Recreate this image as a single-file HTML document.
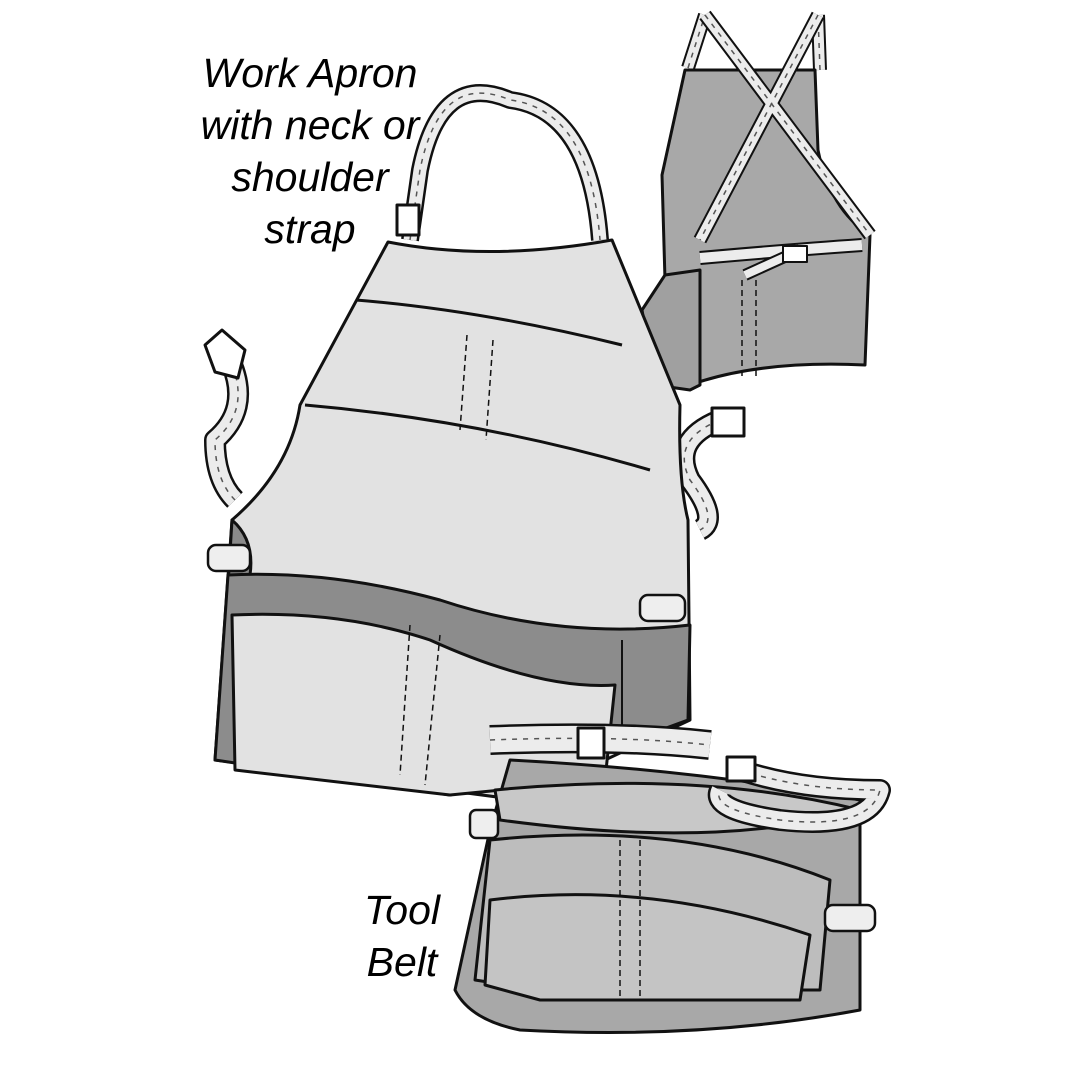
<!DOCTYPE html>
<html><head><meta charset="utf-8"><style>
html,body{margin:0;padding:0;background:#fff;width:1080px;height:1080px;overflow:hidden}
svg{display:block}
text{font-family:"Liberation Sans",sans-serif;font-style:italic;font-size:41px;fill:#000;stroke:none}
</style></head><body>
<svg width="1080" height="1080" viewBox="0 0 1080 1080" stroke="#111" stroke-width="3" stroke-linejoin="round">
<defs>
<style>
.so{fill:none;stroke:#111}
.si{fill:none;stroke:#ececec}
.sd{fill:none;stroke:#555;stroke-width:1.5;stroke-dasharray:5 6}
</style>
</defs>
<!-- labels -->
<text x="310" y="87" text-anchor="middle">Work Apron</text>
<text x="310" y="139" text-anchor="middle">with neck or</text>
<text x="310" y="191" text-anchor="middle">shoulder</text>
<text x="310" y="243" text-anchor="middle">strap</text>
<text x="402" y="924" text-anchor="middle">Tool</text>
<text x="402" y="976" text-anchor="middle">Belt</text>

<!-- small back-view apron -->
<g>
<path d="M688 68 L705 15 M820 70 L818 15" class="so" stroke-width="14"/>
<path d="M688 68 L705 15 M820 70 L818 15" class="si" stroke-width="10"/>
<path d="M688 68 L705 15 M820 70 L818 15" class="sd"/>
<path d="M685 70 L815 70 L818 150 Q830 210 870 235 L865 365 Q760 360 690 385 L665 280 L662 175 Z" fill="#a8a8a8"/>
<path d="M642 310 L665 275 L700 270 L700 385 L690 390 L655 385 Z" fill="#a0a0a0"/>
<path d="M705 15 L870 235 M818 15 L700 240" class="so" stroke-width="14"/>
<path d="M705 15 L870 235 M818 15 L700 240" class="si" stroke-width="10"/>
<path d="M705 15 L870 235 M818 15 L700 240" class="sd"/>
<path d="M700 258 Q790 250 862 245" class="so" stroke-width="14"/>
<path d="M700 258 Q790 250 862 245" class="si" stroke-width="10"/>
<path d="M745 275 L800 250" class="so" stroke-width="12"/>
<path d="M745 275 L800 250" class="si" stroke-width="8"/>
<rect x="783" y="246" width="24" height="16" fill="#fff" stroke-width="2"/>
<path d="M742 280 L742 380 M756 280 L756 380" fill="none" stroke-width="1.5" stroke-dasharray="6 4"/>
</g>

<!-- main apron neck strap -->
<path d="M410 240 L420 170 Q440 70 510 100 Q590 110 600 240" class="so" stroke-width="18"/>
<path d="M410 240 L420 170 Q440 70 510 100 Q590 110 600 240" class="si" stroke-width="13"/>
<path d="M410 240 L420 170 Q440 70 510 100 Q590 110 600 240" class="sd"/>
<rect x="397" y="205" width="22" height="30" fill="#fff"/>

<!-- side straps -->
<path d="M232 365 Q250 410 215 440 Q215 480 235 500" class="so" stroke-width="22"/>
<path d="M232 365 Q250 410 215 440 Q215 480 235 500" class="si" stroke-width="17"/>
<path d="M232 365 Q250 410 215 440 Q215 480 235 500" class="sd"/>
<path d="M205 345 L222 330 L245 350 L238 378 L215 372 Z" fill="#fff"/>
<path d="M720 420 Q670 440 690 480 Q720 520 700 530" class="so" stroke-width="22"/>
<path d="M720 420 Q670 440 690 480 Q720 520 700 530" class="si" stroke-width="17"/>
<path d="M720 420 Q670 440 690 480 Q720 520 700 530" class="sd"/>
<rect x="712" y="408" width="32" height="28" fill="#fff"/>

<!-- main apron body -->
<path d="M388 242 Q490 262 612 240 L680 405 Q678 480 688 520 L690 720 L520 800 L215 760 L232 520 Q290 470 300 405 Z" fill="#e2e2e2"/>
<path d="M232 520 Q255 540 250 575 L228 585 Z" fill="#8a8a8a"/>
<path d="M228 575 Q330 570 440 600 Q560 640 690 625 L688 720 L620 745 L450 795 L215 760 Z" fill="#8c8c8c"/>
<path d="M232 615 Q340 610 430 640 Q540 690 615 685 L605 780 L450 795 L235 770 Z" fill="#e2e2e2"/>
<path d="M622 640 L622 740" fill="none" stroke-width="2"/>
<path d="M356 300 Q480 310 622 345" fill="none"/>
<path d="M305 405 Q480 420 650 470" fill="none"/>
<path d="M467 335 L460 430 M493 340 L486 440 M410 625 L400 775 M440 635 L425 785" fill="none" stroke-width="1.5" stroke-dasharray="6 4"/>
<rect x="208" y="545" width="42" height="26" rx="8" fill="#eee" stroke-width="2.5"/>
<rect x="640" y="595" width="45" height="26" rx="8" fill="#eee" stroke-width="2.5"/>

<!-- tool belt -->
<path d="M510 760 Q700 770 860 800 L860 1010 Q700 1040 520 1030 Q470 1020 455 990 L490 830 Z" fill="#a8a8a8"/>
<path d="M495 790 Q700 770 860 810 Q720 850 500 820 Z" fill="#c8c8c8"/>
<path d="M490 840 Q680 820 830 880 L820 990 L540 990 L475 980 Z" fill="#bdbdbd"/>
<path d="M490 900 Q650 880 810 935 L800 1000 L540 1000 L485 985 Z" fill="#c4c4c4"/>
<path d="M620 840 L620 1000 M640 840 L640 1000" fill="none" stroke-width="1.5" stroke-dasharray="6 4"/>
<path d="M490 740 Q620 735 710 745" class="so" stroke-width="30"/>
<path d="M490 740 Q620 735 710 745" class="si" stroke-width="25"/>
<path d="M490 740 Q620 735 710 745" class="sd"/>
<rect x="578" y="728" width="26" height="30" fill="#fff"/>
<path d="M740 770 Q800 790 880 790 Q870 830 780 820 Q710 810 720 790" class="so" stroke-width="22"/>
<path d="M740 770 Q800 790 880 790 Q870 830 780 820 Q710 810 720 790" class="si" stroke-width="17"/>
<path d="M740 770 Q800 790 880 790 Q870 830 780 820 Q710 810 720 790" class="sd"/>
<rect x="727" y="757" width="28" height="24" fill="#fff"/>
<rect x="470" y="810" width="28" height="28" rx="6" fill="#eee" stroke-width="2.5"/>
<rect x="825" y="905" width="50" height="26" rx="8" fill="#eee" stroke-width="2.5"/>
</svg>
</body></html>
